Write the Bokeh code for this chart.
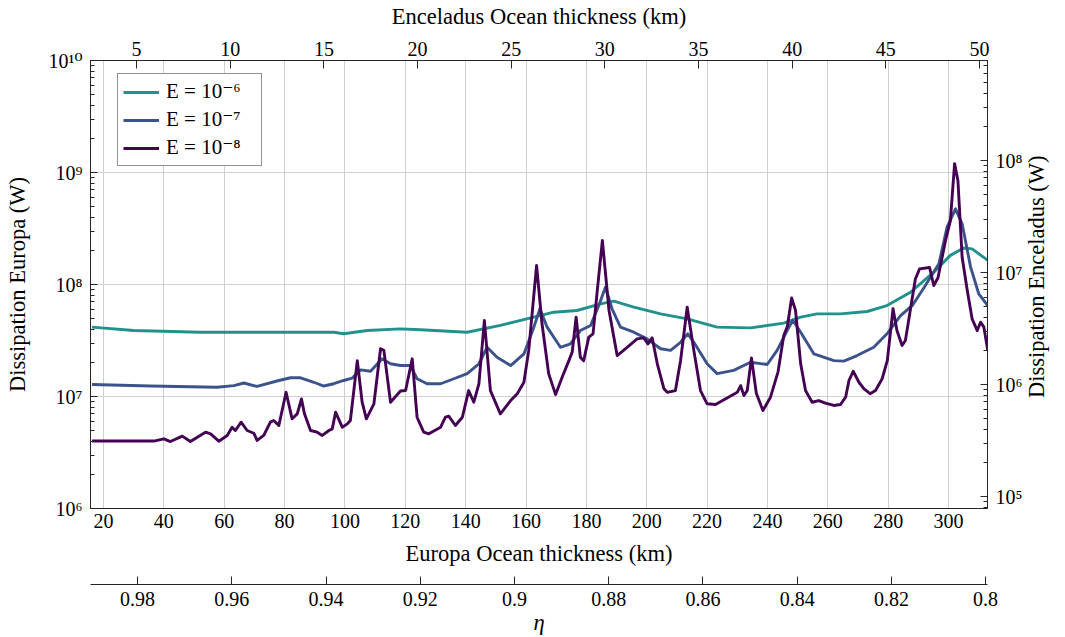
import math
from bokeh.plotting import figure
from bokeh.models import (Range1d, LinearAxis, LogAxis, LogScale, FixedTicker,
                          CustomJSTickFormatter, Legend, LegendItem)
from bokeh.embed import file_html
from bokeh.resources import INLINE

# ---------------- data (Europa ocean thickness in km, dissipation in W) ----------------
depth_e6 = [16.2, 30.0, 52.1, 73.1, 96.3, 99.6, 107.4, 118.4, 125.0, 140.5, 151.5, 162.6,
            169.2, 176.9, 184.7, 189.1, 195.7, 204.6, 213.4, 223.3, 234.4, 245.4, 251.0,
            256.4, 264.2, 273.0, 279.6, 287.4, 295.1, 300.6, 305.0, 307.8, 313.0]
diss_e6 = [4.16e7, 3.88e7, 3.75e7, 3.75e7, 3.75e7, 3.63e7, 3.88e7, 4.02e7, 3.94e7, 3.75e7,
           4.31e7, 5.11e7, 5.66e7, 5.86e7, 6.71e7, 7.10e7, 6.27e7, 5.47e7, 4.94e7, 4.16e7,
           4.10e7, 4.52e7, 5.11e7, 5.47e7, 5.47e7, 5.74e7, 6.49e7, 8.53e7, 1.29e8, 1.82e8,
           2.12e8, 2.08e8, 1.64e8]

depth_e7 = [16.2, 35.6, 57.6, 63.2, 66.5, 70.9, 78.1, 82.0, 85.3, 89.7, 93.0, 96.3, 99.6,
            102.4, 105.2, 108.5, 112.3, 115.1, 118.4, 121.7, 123.9, 127.2, 131.7, 136.1,
            140.5, 144.4, 147.1, 150.4, 154.9, 159.3, 162.6, 164.6, 167.0, 171.4, 174.7,
            178.0, 181.4, 184.3, 186.3, 188.5, 191.3, 195.7, 200.1, 204.6, 207.9, 211.2,
            213.6, 215.6, 220.0, 223.3, 228.8, 234.4, 239.9, 243.2, 246.5, 248.4, 251.0,
            255.4, 262.0, 265.3, 269.7, 275.2, 279.6, 284.1, 288.0, 292.0, 296.8, 299.5,
            302.3, 304.5, 307.3, 310.0, 313.0]
diss_e7 = [1.28e7, 1.24e7, 1.21e7, 1.25e7, 1.32e7, 1.23e7, 1.39e7, 1.47e7, 1.47e7, 1.34e7,
           1.24e7, 1.30e7, 1.39e7, 1.46e7, 1.73e7, 1.68e7, 2.17e7, 1.96e7, 1.89e7, 1.89e7,
           1.44e7, 1.30e7, 1.30e7, 1.44e7, 1.60e7, 1.96e7, 2.75e7, 2.24e7, 1.89e7, 2.40e7,
           4.16e7, 6.07e7, 4.16e7, 2.75e7, 2.95e7, 3.88e7, 4.31e7, 6.71e7, 9.46e7, 6.07e7,
           4.16e7, 3.75e7, 3.27e7, 2.67e7, 2.58e7, 3.05e7, 3.63e7, 3.05e7, 1.96e7, 1.60e7,
           1.71e7, 2.02e7, 1.93e7, 2.58e7, 3.88e7, 4.79e7, 3.75e7, 2.40e7, 2.09e7, 2.07e7,
           2.32e7, 2.75e7, 3.63e7, 5.28e7, 6.5e7, 9.5e7, 1.53e8, 3.25e8, 4.74e8, 3.48e8,
           1.43e8, 8.26e7, 6.49e7]

depth_e8 = [16.2, 20.0, 25.0, 30.0, 36.7, 40.0, 42.2, 46.1, 48.8, 53.8, 55.5, 58.2, 61.0,
            62.6, 63.7, 65.6, 67.6, 69.8, 70.9, 73.1, 75.3, 76.4, 78.1, 80.5, 82.5, 84.2,
            85.6, 86.6, 88.6, 90.8, 92.5, 94.7, 95.8, 96.9, 99.1, 100.8, 101.8, 104.1,
            105.7, 107.1, 109.6, 111.8, 112.9, 115.1, 118.4, 120.1, 122.3, 123.9, 126.1,
            127.8, 131.7, 133.3, 134.4, 136.6, 138.9, 141.0, 142.7, 144.4, 146.2, 148.2,
            151.5, 154.9, 157.1, 159.3, 160.9, 163.5, 165.3, 167.5, 169.8, 172.0, 174.2,
            175.3, 176.6, 178.0, 179.1, 180.8, 182.2, 183.5, 185.3, 187.5, 190.2, 193.5,
            196.8, 199.0, 200.4, 201.8, 203.5, 205.7, 206.8, 209.5, 211.2, 213.4, 215.6,
            217.8, 220.0, 222.8, 230.0, 231.1, 232.2, 233.3, 234.7, 236.3, 238.5, 241.0,
            243.5, 245.4, 246.6, 248.0, 249.3, 251.0, 252.6, 254.8, 257.0, 259.2, 262.0,
            264.2, 265.9, 267.0, 268.4, 270.3, 272.0, 274.0, 275.8, 278.0, 279.7, 281.6,
            282.9, 284.6, 285.7, 287.4, 289.0, 290.4, 293.7, 295.1, 296.5, 299.0, 300.6,
            302.0, 303.1, 304.5, 306.2, 307.8, 309.5, 310.6, 311.7, 313.0]
diss_e8 = [4.0e6, 4.0e6, 4.0e6, 4.0e6, 4.0e6, 4.19e6, 3.96e6, 4.43e6, 3.96e6, 4.80e6, 4.64e6,
           3.99e6, 4.49e6, 5.32e6, 4.97e6, 5.90e6, 4.97e6, 4.70e6, 4.05e6, 4.49e6, 5.90e6,
           6.11e6, 5.51e6, 1.09e7, 6.32e6, 7.0e6, 9.5e6, 7.0e6, 4.97e6, 4.80e6, 4.49e6,
           4.97e6, 5.14e6, 7.24e6, 5.32e6, 5.70e6, 6.11e6, 2.09e7, 8.89e6, 6.32e6, 8.61e6,
           2.67e7, 2.58e7, 8.89e6, 1.12e7, 1.13e7, 2.17e7, 6.53e6, 4.80e6, 4.64e6, 5.32e6,
           6.53e6, 6.67e6, 5.51e6, 6.53e6, 1.13e7, 8.89e6, 1.30e7, 4.78e7, 1.13e7, 7.0e6,
           9.2e6, 1.06e7, 1.34e7, 2.58e7, 1.48e8, 4.46e7, 1.60e7, 1.04e7, 1.49e7, 2.09e7,
           2.49e7, 5.11e7, 2.24e7, 2.09e7, 3.39e7, 3.63e7, 8.26e7, 2.47e8, 5.86e7, 2.32e7,
           2.75e7, 3.27e7, 3.34e7, 2.95e7, 3.34e7, 1.96e7, 1.17e7, 1.09e7, 1.13e7, 2.09e7,
           6.27e7, 2.58e7, 1.13e7, 8.61e6, 8.49e6, 1.09e7, 1.25e7, 1.02e7, 1.13e7, 2.21e7,
           1.07e7, 7.5e6, 9.86e6, 1.66e7, 3.51e7, 4.24e7, 7.59e7, 5.86e7, 1.96e7, 1.13e7,
           8.89e6, 9.2e6, 8.71e6, 8.32e6, 8.49e6, 9.86e6, 1.39e7, 1.68e7, 1.34e7, 1.17e7,
           1.06e7, 1.13e7, 1.44e7, 2.09e7, 6.07e7, 3.88e7, 2.85e7, 3.16e7, 6.07e7, 1.12e8,
           1.38e8, 1.42e8, 9.79e7, 1.15e8, 2.47e8, 3.72e8, 1.2e9, 8.49e8, 1.75e8, 8.83e7,
           4.94e7, 3.88e7, 4.61e7, 4.16e7, 2.57e7]

series_labels = ["E = 10⁻⁶", "E = 10⁻⁷", "E = 10⁻⁸"]
series_colors = ["#21918c", "#3b528b", "#440154"]

europa_ticks = [20, 40, 60, 80, 100, 120, 140, 160, 180, 200, 220, 240, 260, 280, 300]
enceladus_ticks = [5, 10, 15, 20, 25, 30, 35, 40, 45, 50]
eta_ticks = [0.98, 0.96, 0.94, 0.92, 0.90, 0.88, 0.86, 0.84, 0.82, 0.80]
europa_decades = [1e6, 1e7, 1e8, 1e9, 1e10]
enceladus_decades = [1e5, 1e6, 1e7, 1e8]

# ranges
X_RANGE = (15.7, 312.9)
ENC_RANGE = (2.54, 50.43)
ETA_RANGE = (0.99, 0.7996)
Y_RANGE = (1e6, 1e10)
YR_RANGE = (10 ** 4.893, 10 ** 8.893)

assert len(depth_e8) == len(diss_e8) and len(depth_e7) == len(diss_e7) and len(depth_e6) == len(diss_e6)

FONT = "Liberation Serif, DejaVu Serif"
INK = "#262626"


def minors(decades, lo, hi):
    out = []
    for d in [decades[0] / 10] + list(decades):
        for m in range(2, 10):
            v = d * m
            if lo <= v <= hi:
                out.append(v)
    return out


p = figure(width=1065, height=637, output_backend="svg", toolbar_location=None,
           x_range=Range1d(*X_RANGE), y_range=Range1d(*Y_RANGE), y_axis_type="log",
           min_border_left=90, min_border_right=78, min_border_top=60, min_border_bottom=129)
p.background_fill_color = "white"
p.border_fill_color = "white"
p.outline_line_color = INK
p.outline_line_width = 1

p.extra_x_ranges = {"enc": Range1d(*ENC_RANGE), "eta": Range1d(*ETA_RANGE)}
p.extra_y_ranges = {"encP": Range1d(*YR_RANGE)}
p.extra_y_scales = {"encP": LogScale()}

sup_fmt = CustomJSTickFormatter(code="""
const sup = {'0':'\u2070','1':'\u00b9','2':'\u00b2','3':'\u00b3','4':'\u2074','5':'\u2075','6':'\u2076','7':'\u2077','8':'\u2078','9':'\u2079','-':'\u207b'};
const e = Math.round(Math.log10(tick));
return '10' + String(e).split('').map(c => sup[c]).join('');
""")
num_fmt = CustomJSTickFormatter(code="return String(Math.round(tick*100)/100);")


def style_axis(ax, label_size="22.5px"):
    ax.axis_line_color = INK
    ax.major_tick_line_color = INK
    ax.minor_tick_line_color = INK
    ax.major_label_text_font = FONT
    ax.major_label_text_font_size = "20px"
    ax.major_label_text_color = "black"
    ax.axis_label_text_font = FONT
    ax.axis_label_text_font_size = label_size
    ax.axis_label_text_font_style = "normal"
    ax.axis_label_text_color = "black"


# bottom Europa axis
xax = p.xaxis[0]
xt = FixedTicker(ticks=europa_ticks)
xax.ticker = xt
p.xgrid[0].ticker = xt
xax.formatter = num_fmt
style_axis(xax)
xax.axis_label = "Europa Ocean thickness (km)"
xax.major_tick_in = 0
xax.major_tick_out = 0
xax.minor_tick_in = 0
xax.minor_tick_out = 0
xax.major_label_standoff = 5
xax.axis_label_standoff = 10

# left Europa dissipation axis
yax = p.yaxis[0]
yt = FixedTicker(ticks=europa_decades, minor_ticks=minors(europa_decades, *Y_RANGE))
yax.ticker = yt
p.ygrid[0].ticker = FixedTicker(ticks=europa_decades)
yax.formatter = sup_fmt
style_axis(yax)
yax.axis_label = "Dissipation Europa (W)"
yax.major_tick_in = 7
yax.major_tick_out = 0
yax.minor_tick_in = 4
yax.minor_tick_out = 0
yax.major_label_standoff = 8
yax.axis_label_standoff = 15

for g in (p.xgrid[0], p.ygrid[0]):
    g.grid_line_color = "#cfcfcf"
    g.grid_line_width = 1

# top Enceladus thickness axis
tax = LinearAxis(x_range_name="enc", ticker=FixedTicker(ticks=enceladus_ticks), formatter=num_fmt,
                 axis_label="Enceladus Ocean thickness (km)")
style_axis(tax)
tax.major_tick_in = 8
tax.major_tick_out = 0
tax.minor_tick_in = 0
tax.minor_tick_out = 0
tax.major_label_standoff = 5
tax.axis_label_standoff = 10
p.add_layout(tax, "above")

# right Enceladus dissipation axis
rax = LogAxis(y_range_name="encP",
              ticker=FixedTicker(ticks=enceladus_decades, minor_ticks=minors(enceladus_decades, *YR_RANGE)),
              formatter=sup_fmt)
style_axis(rax)
rax.major_tick_in = 7
rax.major_tick_out = 0
rax.minor_tick_in = 4
rax.minor_tick_out = 0
rax.major_label_standoff = 8
p.add_layout(rax, "right")

# right axis title, reading bottom-to-top (a single rotated tick label)
RIGHT_TITLE = "Dissipation Enceladus (W)"
rtitle = LogAxis(y_range_name="encP", ticker=FixedTicker(ticks=[10 ** 5.880]),
                 formatter=CustomJSTickFormatter(code="return %r;" % RIGHT_TITLE))
rtitle.axis_line_color = None
rtitle.major_tick_line_color = None
rtitle.minor_tick_line_color = None
rtitle.major_tick_in = 0
rtitle.major_tick_out = 0
rtitle.major_label_orientation = math.pi / 2
rtitle.major_label_standoff = 11
rtitle.major_label_text_font = FONT
rtitle.major_label_text_font_size = "22.5px"
rtitle.major_label_text_color = "black"
p.add_layout(rtitle, "right")

# spacer between the two bottom axes
spacer = LinearAxis(x_range_name="eta", ticker=FixedTicker(ticks=[0.9]),
                    formatter=CustomJSTickFormatter(code="return '';"))
spacer.axis_line_color = None
spacer.major_tick_line_color = None
spacer.minor_tick_line_color = None
spacer.major_tick_in = 0
spacer.major_tick_out = 16
spacer.major_label_standoff = 0
spacer.major_label_text_font_size = "1px"
p.add_layout(spacer, "below")

# eta axis
eax = LinearAxis(x_range_name="eta", ticker=FixedTicker(ticks=eta_ticks), formatter=num_fmt,
                 axis_label="η")
style_axis(eax)
eax.axis_label_text_font_style = "italic"
eax.major_tick_in = 8
eax.major_tick_out = 0
eax.minor_tick_in = 0
eax.minor_tick_out = 0
eax.major_label_standoff = 7
eax.axis_label_standoff = 1
p.add_layout(eax, "below")

# curves
items = []
for xs, ys, lab, col in [(depth_e6, diss_e6, series_labels[0], series_colors[0]),
                         (depth_e7, diss_e7, series_labels[1], series_colors[1]),
                         (depth_e8, diss_e8, series_labels[2], series_colors[2])]:
    r = p.line(xs, ys, line_color=col, line_width=2.9, line_join="round")
    items.append(LegendItem(label=lab, renderers=[r]))

legend = Legend(items=items, location=(27, 342), border_line_color=INK, border_line_width=1,
                background_fill_color="white", background_fill_alpha=1.0,
                label_text_font=FONT, label_text_font_size="21px", label_text_color="black",
                glyph_width=36, glyph_height=20, label_height=20, label_width=90,
                label_standoff=7, spacing=3, padding=5, margin=0)
p.add_layout(legend, "center")

open("out.html", "w").write(file_html(p, INLINE))
